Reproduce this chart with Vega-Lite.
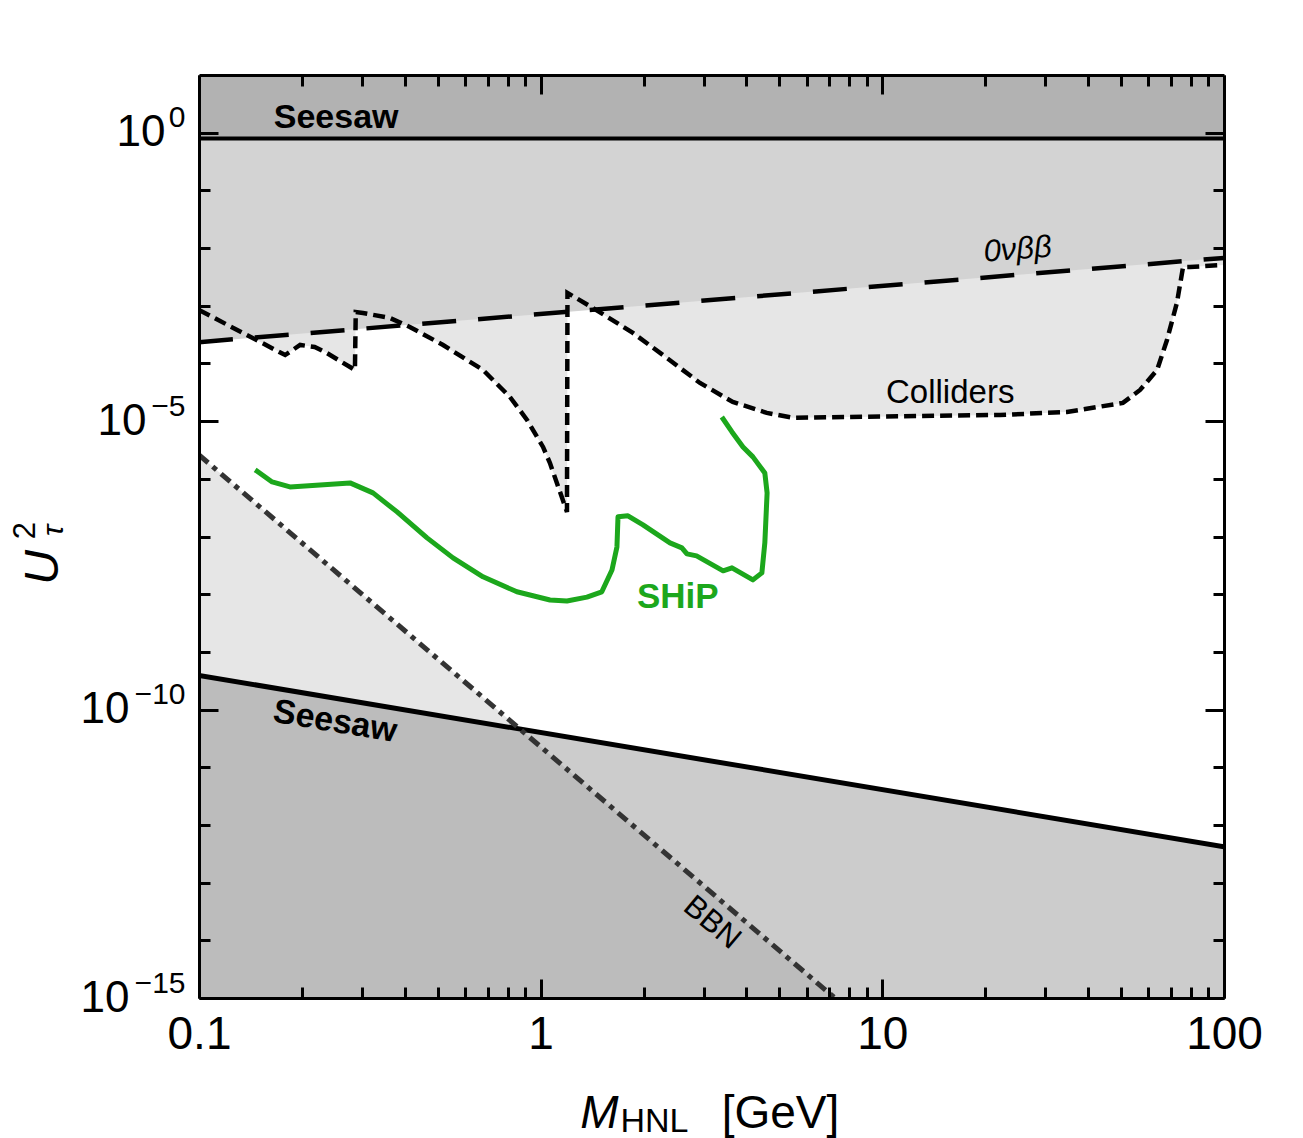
{
  "$schema": "https://vega.github.io/schema/vega-lite/v6.json",
  "width": 1025,
  "height": 923,
  "autosize": {"type": "none"},
  "padding": {"left": 199, "top": 75, "right": 79, "bottom": 140},
  "background": "white",
  "config": {
    "view": {"stroke": null},
    "font": "Liberation Sans",
    "axis": {"grid": false, "labelFont": "Liberation Sans", "titleFont": "Liberation Sans", "labelColor": "black", "titleColor": "black", "titleFontWeight": "normal"}
  },
  "datasets": {
    "colliders": [
      {"m": 0.1, "u": 8.45e-4}, {"m": 0.1787, "u": 1.40e-4}, {"m": 0.1977, "u": 2.09e-4},
      {"m": 0.218, "u": 1.93e-4}, {"m": 0.234, "u": 1.58e-4}, {"m": 0.286, "u": 7.7e-5},
      {"m": 0.2876, "u": 7.8e-4}, {"m": 0.302, "u": 7.5e-4}, {"m": 0.362, "u": 6.14e-4},
      {"m": 0.414, "u": 4.29e-4}, {"m": 0.518, "u": 2.09e-4}, {"m": 0.678, "u": 7.7e-5},
      {"m": 0.813, "u": 2.62e-5}, {"m": 0.912, "u": 1.05e-5}, {"m": 1.016, "u": 3.57e-6},
      {"m": 1.064, "u": 1.89e-6}, {"m": 1.194, "u": 2.67e-7}, {"m": 1.198, "u": 1.67e-3},
      {"m": 1.422, "u": 9.16e-4}, {"m": 1.862, "u": 3.38e-4}, {"m": 2.343, "u": 1.24e-4},
      {"m": 2.926, "u": 4.59e-5}, {"m": 3.65, "u": 2.15e-5}, {"m": 4.59, "u": 1.39e-5},
      {"m": 5.47, "u": 1.14e-5}, {"m": 8.04, "u": 1.18e-5}, {"m": 22.1, "u": 1.28e-5},
      {"m": 34.7, "u": 1.44e-5}, {"m": 50.6, "u": 2.07e-5}, {"m": 56.8, "u": 3.47e-5},
      {"m": 63.7, "u": 7.7e-5}, {"m": 68.1, "u": 2.55e-4}, {"m": 72.8, "u": 1.12e-3},
      {"m": 75.9, "u": 4.71e-3}, {"m": 79.5, "u": 4.71e-3}, {"m": 100, "u": 5.09e-3}
    ],
    "onubb": [{"m": 0.1, "u": 2.34e-4}, {"m": 100, "u": 6.76e-3}],
    "seesawTop": [{"m": 0.1, "u": 0.79}, {"m": 100, "u": 0.79}],
    "bbn": [{"m": 0.1, "u": 2.59e-6}, {"m": 7.26, "u": 1e-15}],
    "seesawLow": [{"m": 0.1, "u": 3.9e-10}, {"m": 100, "u": 4.2e-13}],
    "overlap": [{"m": 0.1, "u": 3.9e-10}, {"m": 0.869, "u": 4.6e-11}, {"m": 7.26, "u": 1e-15}],
    "ship": [
      {"i": 1, "m": 0.146, "u": 1.43e-6}, {"i": 2, "m": 0.1637, "u": 8.83e-7}, {"i": 3, "m": 0.1846, "u": 7.24e-7},
      {"i": 4, "m": 0.2767, "u": 8.49e-7}, {"i": 5, "m": 0.323, "u": 5.7e-7}, {"i": 6, "m": 0.380, "u": 2.67e-7},
      {"i": 7, "m": 0.465, "u": 9.47e-8}, {"i": 8, "m": 0.554, "u": 4.26e-8}, {"i": 9, "m": 0.678, "u": 2.0e-8},
      {"i": 10, "m": 0.852, "u": 1.1e-8}, {"i": 11, "m": 1.065, "u": 7.94e-9}, {"i": 12, "m": 1.194, "u": 7.6e-9},
      {"i": 13, "m": 1.366, "u": 8.9e-9}, {"i": 14, "m": 1.51, "u": 1.1e-8}, {"i": 15, "m": 1.617, "u": 2.63e-8},
      {"i": 16, "m": 1.672, "u": 6.6e-8}, {"i": 17, "m": 1.684, "u": 2.19e-7}, {"i": 18, "m": 1.801, "u": 2.28e-7},
      {"i": 19, "m": 1.993, "u": 1.59e-7}, {"i": 20, "m": 2.39, "u": 7.76e-8}, {"i": 21, "m": 2.59, "u": 6.35e-8},
      {"i": 22, "m": 2.68, "u": 5.0e-8}, {"i": 23, "m": 2.86, "u": 4.62e-8}, {"i": 24, "m": 3.42, "u": 2.54e-8},
      {"i": 25, "m": 3.63, "u": 2.86e-8}, {"i": 26, "m": 4.18, "u": 1.77e-8}, {"i": 27, "m": 4.44, "u": 2.34e-8},
      {"i": 28, "m": 4.53, "u": 7.76e-8}, {"i": 29, "m": 4.60, "u": 5.7e-7}, {"i": 30, "m": 4.53, "u": 1.26e-6},
      {"i": 31, "m": 4.18, "u": 2.4e-6}, {"i": 32, "m": 3.91, "u": 3.57e-6}, {"i": 33, "m": 3.63, "u": 6.5e-6},
      {"i": 34, "m": 3.39, "u": 1.18e-5}
    ],
    "labels": [
      {"key": "seesawTop", "m": 0.252, "u": 1.83, "text": "Seesaw"},
      {"key": "seesawLow", "m": 0.25, "u": 6.1e-11, "text": "Seesaw"},
      {"key": "onubb", "m": 24.9, "u": 9.26e-3, "text": "0νββ"},
      {"key": "colliders", "m": 15.8, "u": 3.08e-5, "text": "Colliders"},
      {"key": "ship", "m": 2.52, "u": 8.95e-9, "text": "SHiP"},
      {"key": "bbn", "m": 3.17, "u": 2.0e-14, "text": "BBN"}
    ]
  },
  "resolve": {"axis": {"x": "independent", "y": "independent"}},
  "encoding": {
    "x": {"field": "m", "type": "quantitative", "scale": {"type": "log", "domain": [0.1, 100], "nice": false}, "axis": null},
    "y": {"field": "u", "type": "quantitative", "scale": {"type": "log", "domain": [1e-15, 10], "nice": false}, "axis": null, "stack": null}
  },
  "layer": [
    {
      "data": {"name": "colliders"},
      "mark": {"type": "area", "color": "#e6e6e6", "clip": true},
      "encoding": {
        "x": {"field": "m", "type": "quantitative", "scale": {"type": "log", "domain": [0.1, 100], "nice": false},
          "axis": {"orient": "bottom", "values": [0.1,0.2,0.3,0.4,0.5,0.6,0.7,0.8,0.9,1,2,3,4,5,6,7,8,9,10,20,30,40,50,60,70,80,90,100],
            "labels": false, "tickColor": "black", "tickWidth": 3,
            "tickSize": {"condition": {"test": "datum.value == 0.1 || datum.value == 1 || datum.value == 10 || datum.value == 100", "value": -19}, "value": -11},
            "domain": true, "domainColor": "black", "domainWidth": 3, "zindex": 1,
            "title": "M", "titleFontSize": 46, "titleFontStyle": "italic", "titleX": 400, "titleY": 129, "titleAlign": "center", "titleBaseline": "alphabetic", "titleAngle": 0}},
        "y": {"field": "u", "type": "quantitative", "stack": null, "scale": {"type": "log", "domain": [1e-15, 10], "nice": false},
          "axis": {"orient": "left", "values": [1e-15,1e-14,1e-13,1e-12,1e-11,1e-10,1e-9,1e-8,1e-7,1e-6,1e-5,1e-4,1e-3,1e-2,1e-1,1],
            "labels": false, "tickColor": "black", "tickWidth": 3,
            "tickSize": {"condition": {"test": "datum.value == 1 || datum.value == 1e-5 || datum.value == 1e-10 || datum.value == 1e-15", "value": -19}, "value": -11},
            "domain": true, "domainColor": "black", "domainWidth": 3, "zindex": 1,
            "title": "U", "titleFontSize": 48, "titleFontStyle": "italic", "titleX": -156, "titleY": 492, "titleAngle": -90, "titleAlign": "center", "titleBaseline": "middle"}},
        "y2": {"datum": 0.79}
      }
    },
    {
      "data": {"name": "onubb"},
      "mark": {"type": "area", "color": "#d3d3d3", "clip": true},
      "encoding": {
        "x": {"field": "m", "type": "quantitative", "scale": {"type": "log", "domain": [0.1, 100], "nice": false},
          "axis": {"orient": "bottom", "values": [0.1, 1, 10, 100], "ticks": false, "domain": false,
            "labelExpr": "datum.value == 0.1 ? '0.1' : datum.value == 1 ? '1' : datum.value == 10 ? '10' : '100'",
            "labelFontSize": 46, "labelPadding": 14, "labelBaseline": "top", "labelAlign": "center",
            "labelFlush": false, "labelOverlap": false, "labelBound": false,
            "title": "HNL", "titleFontSize": 34, "titleX": 455, "titleY": 133, "titleAlign": "center", "titleBaseline": "alphabetic", "titleAngle": 0}},
        "y": {"field": "u", "type": "quantitative", "stack": null, "scale": {"type": "log", "domain": [1e-15, 10], "nice": false},
          "axis": {"orient": "left", "values": [1, 1e-5, 1e-10, 1e-15], "ticks": false, "domain": false,
            "labelExpr": "'10'", "labelFontSize": 44,
            "labelPadding": {"expr": "datum.value == 1 ? 34 : datum.value == 1e-5 ? 53 : 70"},
            "labelBaseline": "middle", "labelAlign": "right", "labelFlush": false, "labelOverlap": false, "labelBound": false,
            "title": "2", "titleFontSize": 31, "titleX": -174, "titleY": 455, "titleAngle": -90, "titleAlign": "center", "titleBaseline": "middle"}},
        "y2": {"datum": 0.79}
      }
    },
    {
      "data": {"name": "seesawTop"},
      "mark": {"type": "area", "color": "#b2b2b2", "clip": true},
      "encoding": {
        "x": {"field": "m", "type": "quantitative", "scale": {"type": "log", "domain": [0.1, 100], "nice": false},
          "axis": {"orient": "bottom", "ticks": false, "labels": false, "domain": false,
            "title": "[GeV]", "titleFontSize": 46, "titleX": 581, "titleY": 129, "titleAlign": "center", "titleBaseline": "alphabetic", "titleAngle": 0}},
        "y": {"field": "u", "type": "quantitative", "stack": null, "scale": {"type": "log", "domain": [1e-15, 10], "nice": false},
          "axis": {"orient": "left", "values": [1, 1e-5, 1e-10, 1e-15], "ticks": false, "domain": false,
            "labelExpr": "datum.value == 1 ? '0' : datum.value == 1e-5 ? '−5' : datum.value == 1e-10 ? '−10' : '−15'",
            "labelFontSize": 30, "labelPadding": 14, "labelOffset": -15,
            "labelBaseline": "middle", "labelAlign": "right", "labelFlush": false, "labelOverlap": false, "labelBound": false,
            "title": "τ", "titleFontSize": 30, "titleFontStyle": "italic", "titleX": -146, "titleY": 455, "titleAngle": -90, "titleAlign": "center", "titleBaseline": "middle"}},
        "y2": {"datum": 10}
      }
    },
    {
      "data": {"name": "bbn"},
      "mark": {"type": "area", "color": "#e6e6e6", "clip": true},
      "encoding": {
        "x": {"field": "m", "type": "quantitative", "scale": {"type": "log", "domain": [0.1, 100], "nice": false},
          "axis": {"orient": "top", "values": [0.1,0.2,0.3,0.4,0.5,0.6,0.7,0.8,0.9,1,2,3,4,5,6,7,8,9,10,20,30,40,50,60,70,80,90,100],
            "labels": false, "tickColor": "black", "tickWidth": 3,
            "tickSize": {"condition": {"test": "datum.value == 0.1 || datum.value == 1 || datum.value == 10 || datum.value == 100", "value": -19}, "value": -11},
            "domain": true, "domainColor": "black", "domainWidth": 3, "zindex": 1, "title": null}},
        "y": {"field": "u", "type": "quantitative", "stack": null, "scale": {"type": "log", "domain": [1e-15, 10], "nice": false},
          "axis": {"orient": "right", "values": [1e-15,1e-14,1e-13,1e-12,1e-11,1e-10,1e-9,1e-8,1e-7,1e-6,1e-5,1e-4,1e-3,1e-2,1e-1,1],
            "labels": false, "tickColor": "black", "tickWidth": 3,
            "tickSize": {"condition": {"test": "datum.value == 1 || datum.value == 1e-5 || datum.value == 1e-10 || datum.value == 1e-15", "value": -19}, "value": -11},
            "domain": true, "domainColor": "black", "domainWidth": 3, "zindex": 1, "title": null}},
        "y2": {"datum": 1e-15}
      }
    },
    {
      "data": {"name": "seesawLow"},
      "mark": {"type": "area", "color": "#cccccc", "clip": true},
      "encoding": {"y2": {"datum": 1e-15}}
    },
    {
      "data": {"name": "overlap"},
      "mark": {"type": "area", "color": "#bcbcbc", "clip": true},
      "encoding": {"y2": {"datum": 1e-15}}
    },
    {
      "data": {"name": "onubb"},
      "mark": {"type": "line", "color": "black", "strokeWidth": 4.5, "strokeDash": [34, 22], "clip": true},
      "encoding": {}
    },
    {
      "data": {"name": "colliders"},
      "mark": {"type": "line", "color": "black", "strokeWidth": 4.5, "strokeDash": [12, 6], "clip": true},
      "encoding": {}
    },
    {
      "data": {"name": "seesawTop"},
      "mark": {"type": "line", "color": "black", "strokeWidth": 4, "clip": true},
      "encoding": {}
    },
    {
      "data": {"name": "seesawLow"},
      "mark": {"type": "line", "color": "black", "strokeWidth": 5, "clip": true},
      "encoding": {}
    },
    {
      "data": {"name": "bbn"},
      "mark": {"type": "line", "color": "#333333", "strokeWidth": 5, "strokeDash": [12, 6, 5, 6], "clip": true},
      "encoding": {}
    },
    {
      "data": {"name": "ship"},
      "mark": {"type": "line", "color": "#1ca71c", "strokeWidth": 5, "clip": true, "strokeJoin": "round"},
      "encoding": {"order": {"field": "i", "type": "quantitative"}}
    },
    {
      "data": {"name": "labels"},
      "transform": [{"filter": "datum.key == 'seesawTop'"}],
      "mark": {"type": "text", "fontSize": 34, "fontWeight": "bold", "color": "black", "align": "center", "baseline": "middle"},
      "encoding": {"text": {"field": "text"}}
    },
    {
      "data": {"name": "labels"},
      "transform": [{"filter": "datum.key == 'seesawLow'"}],
      "mark": {"type": "text", "fontSize": 34, "fontWeight": "bold", "color": "black", "align": "center", "baseline": "middle", "angle": 9.5},
      "encoding": {"text": {"field": "text"}}
    },
    {
      "data": {"name": "labels"},
      "transform": [{"filter": "datum.key == 'onubb'"}],
      "mark": {"type": "text", "fontSize": 31, "fontStyle": "italic", "color": "black", "align": "center", "baseline": "middle", "angle": -4.5},
      "encoding": {"text": {"field": "text"}}
    },
    {
      "data": {"name": "labels"},
      "transform": [{"filter": "datum.key == 'colliders'"}],
      "mark": {"type": "text", "fontSize": 33, "color": "black", "align": "center", "baseline": "middle"},
      "encoding": {"text": {"field": "text"}}
    },
    {
      "data": {"name": "labels"},
      "transform": [{"filter": "datum.key == 'ship'"}],
      "mark": {"type": "text", "fontSize": 35, "fontWeight": "bold", "color": "#1ca71c", "align": "center", "baseline": "middle"},
      "encoding": {"text": {"field": "text"}}
    },
    {
      "data": {"name": "labels"},
      "transform": [{"filter": "datum.key == 'bbn'"}],
      "mark": {"type": "text", "fontSize": 31, "color": "black", "align": "center", "baseline": "middle", "angle": 40},
      "encoding": {"text": {"field": "text"}}
    }
  ]
}
